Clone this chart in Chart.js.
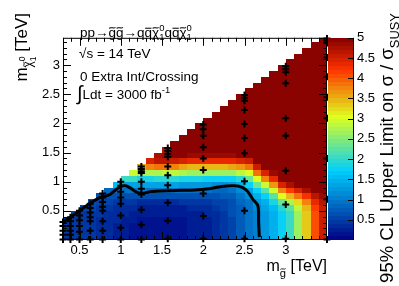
<!DOCTYPE html>
<html>
<head>
<meta charset="utf-8">
<script src="https://cdn.jsdelivr.net/npm/chart.js@4.4.1/dist/chart.umd.min.js"></script>
<style>
  html, body { margin: 0; padding: 0; background: #fff; }
  #limitChart { display: block; }
</style>
</head>
<body>
<canvas id="limitChart" width="399" height="286"></canvas>
<script>

// cell centres of the limit map (TeV)
const gluinoCells = [0.35, 0.45, 0.55, 0.65, 0.75, 0.85, 0.95, 1.05, 1.15, 1.25, 1.35, 1.45, 1.55, 1.65, 1.75, 1.85,
                     1.95, 2.05, 2.15, 2.25, 2.35, 2.45, 2.55, 2.65, 2.75, 2.85, 2.95, 3.05, 3.15, 3.25, 3.35, 3.45];
const lspCells = [0.05, 0.15, 0.25, 0.35, 0.45, 0.55, 0.65, 0.75, 0.85, 0.95, 1.05, 1.15, 1.25, 1.35, 1.45, 1.55, 1.65,
                  1.75, 1.85, 1.95, 2.05, 2.15, 2.25, 2.35, 2.45, 2.55, 2.65, 2.75, 2.85, 2.95, 3.05, 3.15, 3.25, 3.35, 3.45];

// sigma / sigma_SUSY per gluino column, from the lowest lsp cell upwards
const limitByColumn = [
    [0.4, 0.4, 0.45, 0.5],
    [0.4, 0.4, 0.4, 0.45, 0.55],
    [0.4, 0.4, 0.4, 0.4, 0.45, 0.55],
    [0.4, 0.4, 0.4, 0.4, 0.4, 0.5, 0.6],
    [0.35, 0.35, 0.35, 0.35, 0.4, 0.45, 0.55, 0.65],
    [0.3, 0.3, 0.3, 0.3, 0.35, 0.4, 0.5, 0.65, 0.85],
    [0.25, 0.25, 0.25, 0.3, 0.3, 0.35, 0.45, 0.65, 0.95, 1.5],
    [0.2, 0.2, 0.2, 0.25, 0.3, 0.35, 0.45, 0.65, 0.9, 1.3, 2.0],
    [0.15, 0.15, 0.15, 0.2, 0.25, 0.3, 0.4, 0.6, 0.95, 1.35, 2.0, 2.9],
    [0.1, 0.1, 0.15, 0.15, 0.2, 0.25, 0.35, 0.6, 1.0, 1.3, 1.8, 2.6, 3.5],
    [0.1, 0.1, 0.1, 0.15, 0.2, 0.25, 0.35, 0.6, 0.95, 1.3, 1.85, 2.7, 3.7, 4.4],
    [0.1, 0.1, 0.1, 0.15, 0.2, 0.25, 0.35, 0.6, 0.95, 1.3, 1.9, 2.7, 3.8, 4.6, 4.7],
    [0.1, 0.1, 0.1, 0.15, 0.2, 0.25, 0.35, 0.6, 0.95, 1.3, 1.9, 2.8, 3.8, 4.6, 4.8, 4.6],
    [0.1, 0.1, 0.1, 0.15, 0.2, 0.25, 0.35, 0.6, 0.95, 1.3, 1.9, 2.8, 3.7, 4.5, 4.9, 5, 5],
    [0.15, 0.15, 0.15, 0.15, 0.2, 0.25, 0.4, 0.6, 0.9, 1.25, 1.85, 2.7, 3.5, 4.4, 4.9, 5, 5],
    [0.2, 0.2, 0.2, 0.2, 0.25, 0.3, 0.45, 0.65, 0.9, 1.25, 1.8, 2.6, 3.4, 4.3, 4.8, 5, 5],
    [0.2, 0.2, 0.2, 0.2, 0.25, 0.3, 0.45, 0.65, 0.9, 1.25, 1.8, 2.6, 3.4, 4.3, 4.8, 5, 5],
    [0.25, 0.25, 0.25, 0.25, 0.3, 0.35, 0.45, 0.65, 0.9, 1.2, 1.75, 2.6, 3.4, 4.3, 4.8, 5, 5],
    [0.3, 0.3, 0.3, 0.3, 0.35, 0.4, 0.5, 0.65, 0.85, 1.15, 1.7, 2.6, 3.4, 4.3, 4.8, 5, 5],
    [0.4, 0.4, 0.4, 0.4, 0.45, 0.5, 0.55, 0.7, 0.85, 1.15, 1.7, 2.6, 3.4, 4.3, 4.8, 5, 5],
    [0.55, 0.55, 0.55, 0.55, 0.6, 0.6, 0.65, 0.75, 0.9, 1.2, 1.75, 2.6, 3.5, 4.3, 4.8, 5, 5],
    [0.7, 0.7, 0.7, 0.7, 0.7, 0.75, 0.8, 0.9, 1.1, 1.45, 1.95, 2.8, 3.6, 4.4, 4.9, 5, 5],
    [0.9, 0.9, 0.9, 0.9, 0.9, 0.9, 0.95, 1.1, 1.3, 1.7, 2.3, 3.0, 3.8, 4.5, 5, 5, 5],
    [1.05, 1.05, 1.05, 1.05, 1.05, 1.1, 1.2, 1.45, 1.75, 2.3, 3.0, 3.8, 4.5, 4.9, 5, 5, 5],
    [1.25, 1.25, 1.25, 1.25, 1.25, 1.3, 1.45, 1.75, 2.2, 2.9, 3.7, 4.4, 4.9, 5, 5, 5, 5],
    [1.45, 1.45, 1.45, 1.45, 1.45, 1.55, 1.8, 2.2, 2.9, 3.6, 4.3, 4.8, 5, 5, 5, 5, 5],
    [1.7, 1.7, 1.7, 1.7, 1.7, 1.9, 2.3, 3.0, 3.7, 4.4, 4.9, 5, 5, 5, 5, 5, 5],
    [2.0, 2.0, 2.0, 2.0, 2.0, 2.2, 2.7, 3.4, 4.1, 4.7, 5, 5, 5, 5, 5, 5, 5],
    [2.6, 2.6, 2.6, 2.6, 2.6, 2.8, 3.2, 3.8, 4.4, 4.9, 5, 5, 5, 5, 5, 5, 5],
    [3.3, 3.3, 3.3, 3.3, 3.3, 3.4, 3.7, 4.2, 4.7, 5, 5, 5, 5, 5, 5, 5, 5],
    [4.0, 4.0, 4.0, 4.0, 4.0, 4.1, 4.3, 4.6, 4.9, 5, 5, 5, 5, 5, 5, 5, 5],
    [4.5, 4.5, 4.5, 4.5, 4.5, 4.5, 4.6, 4.8, 4.9, 5, 5, 5, 5, 5, 5, 5, 5]
];
// everything above the listed cells sits at the top of the colour scale
const upperLimitCap = 5;

// simulated mass points (the black crosses)
const scanGluino = [0.3, 0.39, 0.5, 0.63, 0.78, 1.0, 1.25, 1.57, 2.0, 2.5, 3.0, 3.5];
const scanLsp = [
    [0.01, 0.09, 0.16, 0.24, 0.31],
    [0.01, 0.09, 0.16, 0.24, 0.32, 0.39],
    [0.01, 0.14, 0.24, 0.34, 0.42, 0.5],
    [0.01, 0.16, 0.32, 0.39, 0.47, 0.55, 0.62],
    [0.01, 0.16, 0.32, 0.5, 0.57, 0.65, 0.73, 0.8],
    [0.01, 0.21, 0.42, 0.62, 0.73, 0.83, 0.93, 1.0],
    [0.01, 0.26, 0.52, 0.78, 0.88, 1.0, 1.15, 1.18, 1.22, 1.26],
    [0.02, 0.33, 0.64, 0.94, 1.11, 1.26, 1.43, 1.48, 1.53, 1.58],
    [0.02, 0.41, 0.8, 1.2, 1.4, 1.59, 1.79, 1.9, 1.98],
    [0.02, 0.5, 1.01, 1.49, 1.75, 1.99, 2.23, 2.39, 2.44, 2.49],
    [0.02, 0.61, 1.19, 1.79, 2.09, 2.69, 2.88, 2.93, 2.98],
    [0.01, 0.7, 1.4, 2.09, 2.45, 2.8, 3.13, 3.38, 3.42, 3.46]
];

// sigma / sigma_SUSY = 1 contour
const contourGluino = [0.3, 0.39, 0.51, 0.63, 0.75, 0.81, 0.87, 0.93, 1.0, 1.06, 1.12, 1.18, 1.26, 1.36, 1.48,
                       1.68, 1.9, 2.06, 2.22, 2.38, 2.48, 2.54, 2.6, 2.66, 2.67, 2.67, 2.68];
const contourLsp = [0.31, 0.39, 0.51, 0.63, 0.73, 0.75, 0.78, 0.85, 0.92, 0.93, 0.89, 0.83, 0.8, 0.83, 0.84,
                    0.85, 0.86, 0.88, 0.92, 0.93, 0.9, 0.83, 0.7, 0.6, 0.47, 0.32, 0.05];

const xTicks = [0.5, 1, 1.5, 2, 2.5, 3];
const yTicks = [0.5, 1, 1.5, 2, 2.5, 3];
const zTicks = [0.5, 1, 1.5, 2, 2.5, 3, 3.5, 4, 4.5, 5];

const FONT = '"Liberation Sans", Arial, Helvetica, sans-serif';
const cellSize = 0.1;
const zMax = 5;
const nLevels = 50;
const barLeft = 328, barRight = 353;

// ROOT style rainbow palette
const palStops = [0, 0.34, 0.61, 0.84, 1];
const palR = [0, 0, 0.87, 1, 0.51];
const palG = [0, 0.81, 1, 0.2, 0];
const palB = [0.51, 1, 0.12, 0, 0];

function paletteColor(v) {
    const level = Math.max(0, Math.min(Math.floor(v / zMax * nLevels + 1e-6), nLevels - 1));
    const t = (level + 0.5) / nLevels;
    let k = 0;
    while (k < palStops.length - 2 && t > palStops[k + 1]) k++;
    const f = (t - palStops[k]) / (palStops[k + 1] - palStops[k]);
    const c = arr => Math.round(255 * (arr[k] + f * (arr[k + 1] - arr[k])));
    return `rgb(${c(palR)},${c(palG)},${c(palB)})`;
}

// tilde / bar drawn by hand over a lower case glyph
function drawAccent(ctx, kind, x, w, base, fs) {
    const top = base - 0.55 * fs;
    ctx.save();
    ctx.strokeStyle = '#000';
    ctx.lineWidth = Math.max(0.8, fs * 0.075);
    ctx.beginPath();
    if (kind === 'tilde') {
        const hw = Math.min(w * 0.42, fs * 0.26), cx = x + w / 2, y = top - fs * 0.13, a = fs * 0.07;
        ctx.moveTo(cx - hw, y + a * 0.6);
        ctx.bezierCurveTo(cx - hw * 0.5, y - a * 1.6, cx + hw * 0.5, y + a * 1.6, cx + hw, y - a * 0.6);
    } else {
        const y = top - fs * 0.1;
        ctx.moveTo(x + w * 0.08, y);
        ctx.lineTo(x + w * 0.92, y);
    }
    ctx.stroke();
    ctx.restore();
}

// draws text runs with sub/superscripts, returns the width
// part: [text, rise, scale, stackOnPrevious, accent]
function richText(ctx, parts, size, draw) {
    let cx = 0, start = 0, end = 0;
    parts.forEach(([text, rise, scale, stack, accent]) => {
        const fs = size * scale;
        ctx.font = `${fs}px ${FONT}`;
        if (stack) cx = start;
        start = cx;
        const w = ctx.measureText(text).width;
        if (draw) {
            ctx.fillText(text, cx, -rise * size);
            if (accent) drawAccent(ctx, accent, cx, w, -rise * size, fs);
        }
        cx = Math.max(cx + w, stack ? end : 0);
        end = cx;
    });
    return cx;
}

function drawText(ctx, parts, size, x, y, opts) {
    opts = opts || {};
    ctx.save();
    ctx.fillStyle = '#000';
    ctx.textBaseline = 'alphabetic';
    ctx.textAlign = 'left';
    const w = richText(ctx, parts, size, false);
    if (opts.rotate) {
        // reads bottom to top, ends at y
        ctx.translate(x, y + w);
        ctx.rotate(-Math.PI / 2);
    } else {
        ctx.translate(opts.alignRight ? x - w : x, y);
    }
    richText(ctx, parts, size, true);
    ctx.restore();
}

const edge = v => +v.toFixed(4);

const limitMapPlugin = {
    id: 'limitMap',
    beforeDatasetsDraw(chart) {
        const { ctx, chartArea: a, scales: { x, y } } = chart;
        ctx.save();
        ctx.beginPath();
        ctx.rect(a.left, a.top, a.right - a.left, a.bottom - a.top);
        ctx.clip();
        gluinoCells.forEach((mg, i) => {
            const col = limitByColumn[i];
            const x0 = Math.round(x.getPixelForValue(edge(mg - cellSize / 2)));
            const x1 = Math.round(x.getPixelForValue(edge(mg + cellSize / 2)));
            lspCells.forEach((ml, j) => {
                if (ml > mg + 1e-6) return; // lsp heavier than gluino: no point
                const v = j < col.length ? col[j] : upperLimitCap;
                const y0 = Math.round(y.getPixelForValue(edge(ml + cellSize / 2)));
                const y1 = Math.round(y.getPixelForValue(edge(ml - cellSize / 2)));
                ctx.fillStyle = paletteColor(v);
                ctx.fillRect(x0, y0, x1 - x0, y1 - y0);
            });
        });
        ctx.restore();

        // frame with inward ticks on all four sides
        ctx.save();
        ctx.strokeStyle = '#000';
        ctx.lineWidth = 1;
        ctx.strokeRect(a.left + 0.5, a.top + 0.5, a.right - a.left - 1, a.bottom - a.top - 1);
        ctx.beginPath();
        for (let k = 3; k < 35; k++) {
            const px = Math.round(x.getPixelForValue(k / 10)) + 0.5;
            const len = k % 5 === 0 ? 8 : 4;
            ctx.moveTo(px, a.bottom); ctx.lineTo(px, a.bottom - len);
            ctx.moveTo(px, a.top); ctx.lineTo(px, a.top + len);
        }
        for (let k = 1; k < 35; k++) {
            const py = Math.round(y.getPixelForValue(k / 10)) + 0.5;
            const len = k % 5 === 0 ? 8 : 4;
            ctx.moveTo(a.left, py); ctx.lineTo(a.left + len, py);
            ctx.moveTo(a.right, py); ctx.lineTo(a.right - len, py);
        }
        ctx.stroke();
        ctx.restore();
    },
    afterDraw(chart) {
        const { ctx, chartArea: a, scales: { z } } = chart;
        // colour bar
        ctx.save();
        for (let k = 0; k < nLevels; k++) {
            const v0 = k * zMax / nLevels, v1 = (k + 1) * zMax / nLevels;
            const y0 = Math.round(z.getPixelForValue(v1));
            const y1 = Math.round(z.getPixelForValue(v0));
            ctx.fillStyle = paletteColor((v0 + v1) / 2);
            ctx.fillRect(barLeft, y0, barRight - barLeft, y1 - y0);
        }
        ctx.strokeStyle = '#000';
        ctx.lineWidth = 1;
        ctx.beginPath();
        ctx.moveTo(barRight + 0.5, a.top); ctx.lineTo(barRight + 0.5, a.bottom);
        zTicks.forEach(v => {
            const py = Math.round(z.getPixelForValue(v)) + 0.5;
            ctx.moveTo(barRight + 0.5, py); ctx.lineTo(barRight - 5, py);
        });
        ctx.stroke();
        ctx.restore();

        // axis titles
        drawText(ctx, [['m', 0, 1], ['g', -0.35, 0.7, false, 'tilde'], [' [TeV]', 0, 1]], 16, a.right, 271, { alignRight: true });
        drawText(ctx, [['m', 0, 1], ['\u03C7', -0.3, 0.7, false, 'tilde'], ['0', 0.12, 0.5], ['1', -0.55, 0.5, true], [' [TeV]', 0, 1]],
                 17, 27, 13, { rotate: true });
        drawText(ctx, [['95% CL Upper Limit on \u03C3 / \u03C3', 0, 1], ['SUSY', -0.3, 0.7]], 18.5, 393, 13, { rotate: true });

        // process and conditions
        const chi = [['\u03C7', 0, 1, false, 'tilde'], ['0', 0.42, 0.7], ['1', -0.25, 0.7, true]];
        drawText(ctx, [['pp\u2192', 0, 1], ['g', 0, 1, false, 'tilde'], ['g', 0, 1, false, 'tilde'], ['\u2192q', 0, 1],
                       ['q', 0, 1, false, 'bar'], ...chi, ['q', 0, 1], ['q', 0, 1, false, 'bar'], ...chi], 13.5, 80, 37);
        drawText(ctx, [['\u221As = 14 TeV', 0, 1]], 13.5, 79, 58);
        drawText(ctx, [['0 Extra Int/Crossing', 0, 1]], 13.5, 80, 81);
        drawText(ctx, [['\u222B', -0.05, 1.5], ['Ldt = 3000 fb', 0, 1], ['-1', 0.42, 0.7]], 13.5, 77, 99);
    }
};

const crossPoints = [];
scanGluino.forEach((mg, i) => scanLsp[i].forEach(ml => crossPoints.push({ x: mg, y: ml })));
const contourPoints = contourGluino.map((mg, i) => ({ x: mg, y: contourLsp[i] }));

const tickFont = { family: FONT, size: 13 };

new Chart(document.getElementById('limitChart'), {
    type: 'scatter',
    data: {
        datasets: [
            {
                data: contourPoints,
                showLine: true,
                borderColor: '#000',
                borderWidth: 3,
                pointRadius: 0,
                tension: 0.2,
                clip: false
            },
            {
                data: crossPoints,
                pointStyle: 'cross',
                pointRadius: 3.5,
                borderWidth: 2,
                borderColor: '#000',
                backgroundColor: '#000',
                clip: false
            }
        ]
    },
    options: {
        responsive: false,
        animation: false,
        devicePixelRatio: 1,
        events: [],
        layout: { padding: { top: 14, right: 0, bottom: 0, left: 0 } },
        plugins: { legend: { display: false }, tooltip: { enabled: false } },
        scales: {
            x: {
                type: 'linear', min: 0.3, max: 3.5,
                grid: { display: false, drawTicks: false },
                border: { display: false },
                afterBuildTicks: s => { s.ticks = xTicks.map(v => ({ value: v })); },
                afterFit: s => { s.height = 46; },
                ticks: { font: tickFont, color: '#000', padding: 3, maxRotation: 0, autoSkip: false, callback: v => String(v) }
            },
            y: {
                type: 'linear', min: 0, max: 3.47,
                grid: { display: false, drawTicks: false },
                border: { display: false },
                afterBuildTicks: s => { s.ticks = yTicks.map(v => ({ value: v })); },
                afterFit: s => { s.width = 63; },
                ticks: { font: tickFont, color: '#000', padding: 3, autoSkip: false, callback: v => String(v) }
            },
            z: {
                type: 'linear', position: 'right', min: 0, max: zMax,
                grid: { display: false, drawTicks: false },
                border: { display: false },
                afterBuildTicks: s => { s.ticks = zTicks.map(v => ({ value: v })); },
                afterFit: s => { s.width = 72; },
                ticks: { font: tickFont, color: '#000', padding: 30, autoSkip: false, callback: v => String(v) }
            }
        }
    },
    plugins: [limitMapPlugin]
});
</script>
</body>
</html>
